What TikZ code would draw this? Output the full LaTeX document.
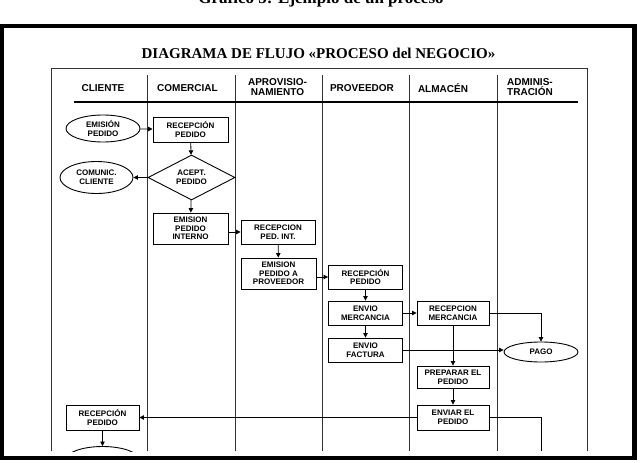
\documentclass[tikz,border=0pt]{standalone}
\usepackage{fontspec}
\setmainfont{Liberation Serif}
\setsansfont{Liberation Sans}
\usetikzlibrary{arrows.meta,shapes.geometric}

\begin{document}
\begin{tikzpicture}[x=1pt, y=-1pt,
    proc/.style={draw, line width=0.9pt, align=center, font=\sffamily\bfseries\fontsize{8}{8.6}\selectfont, inner sep=0pt, minimum width=74pt, minimum height=24pt},
    term/.style={draw, ellipse, line width=0.9pt, align=center, font=\sffamily\bfseries\fontsize{8}{8.6}\selectfont, inner sep=0pt, minimum width=74pt, minimum height=27pt},
    dec/.style={draw, diamond, line width=0.9pt, align=center, font=\sffamily\bfseries\fontsize{8}{8.6}\selectfont, inner sep=0pt, minimum width=87pt, minimum height=45pt},
    hdr/.style={align=center, font=\sffamily\bfseries\fontsize{10}{10.5}\selectfont, inner sep=0pt},
    lane/.style={line width=0.8pt, black!80},
    arr/.style={-{Triangle[length=4.5pt, width=4.5pt]}, line width=0.8pt}
    ]
    \useasboundingbox (0,0) rectangle (641,463);
    \node[font=\bfseries\fontsize{17}{17}\selectfont, anchor=base] (caption) at (321,4) {Gráfico 5: Ejemplo de un proceso};
    \draw[line width=4.5pt] (2,26) rectangle (634.5,458);
    \node[font=\bfseries\fontsize{15}{15}\selectfont, anchor=base] (title) at (318.5,59) {DIAGRAMA DE FLUJO «PROCESO del NEGOCIO»};

    \draw[lane] (51,451) -- (51,68) -- (587,68) -- (587,451);
    \draw[lane] (147,75) -- (147,451);
    \draw[lane] (235,75) -- (235,451);
    \draw[lane] (322,75) -- (322,451);
    \draw[lane] (409,75) -- (409,451);
    \draw[lane] (497,75) -- (497,451);
    \draw[line width=2pt] (74,102) -- (578,102);

    \node[hdr] (hcliente) at (103,88) {CLIENTE};
    \node[hdr] (hcomercial) at (187.5,88) {COMERCIAL};
    \node[hdr] (haprov) at (277.5,87) {APROVISIO-\\NAMIENTO};
    \node[hdr] (hproveedor) at (362,88) {PROVEEDOR};
    \node[hdr] (halmacen) at (443,88) {ALMACÉN};
    \node[hdr] (hadmin) at (530,87) {ADMINIS-\\TRACIÓN};

    \node[term] (emped) at (103,128.5) {EMISIÓN\\PEDIDO};
    \node[proc, minimum width=75pt, minimum height=25pt] (recped) at (190.5,129.5) {RECEPCIÓN\\PEDIDO};
    \node[dec] (acept) at (191.5,177.5) {ACEPT.\\PEDIDO};
    \node[term, minimum width=73pt, minimum height=32pt] (comunic) at (96.5,177.5) {COMUNIC.\\CLIENTE};
    \node[proc, minimum width=75pt, minimum height=31pt] (empedint) at (190.5,228.5) {EMISION\\PEDIDO\\INTERNO};
    \node[proc] (recpedint) at (278,232) {RECEPCION\\PED. INT.};
    \node[proc, minimum width=75pt, minimum height=31pt] (emprov) at (278.5,273.5) {EMISION\\PEDIDO A\\PROVEEDOR};
    \node[proc] (recpedprov) at (365.5,277) {RECEPCIÓN\\PEDIDO};
    \node[proc] (envmerc) at (365.5,313) {ENVIO\\MERCANCIA};
    \node[proc] (envfact) at (365.5,350) {ENVIO\\FACTURA};
    \node[proc, minimum width=72pt] (recmerc) at (453,313) {RECEPCION\\MERCANCIA};
    \node[term, minimum height=20pt] (pago) at (541,352) {PAGO};
    \node[proc, minimum width=72pt, minimum height=22pt] (prepped) at (453,377) {PREPARAR EL\\PEDIDO};
    \node[proc, minimum width=72pt, minimum height=25pt] (envped) at (453,417.5) {ENVIAR EL\\PEDIDO};
    \node[proc, minimum width=73pt, minimum height=25pt] (recpedcli) at (102.5,417.5) {RECEPCIÓN\\PEDIDO};
    \begin{scope}
      \clip (0,0) rectangle (641,451);
      \node[term, minimum width=74pt] (fin) at (102.5,460) {};
    \end{scope}
    \coordinate (envend) at (541,451);

    \draw[arr] (emped) -- (recped);
    \draw[arr] (recped) -- (acept);
    \draw[arr] (acept) -- (comunic);
    \draw[arr] (acept) -- (empedint);
    \draw[arr] (empedint.east |- recpedint.west) -- (recpedint.west);
    \draw[arr] (recpedint) -- (emprov);
    \draw[arr] (emprov.east |- recpedprov.west) -- (recpedprov.west);
    \draw[arr] (recpedprov) -- (envmerc);
    \draw[arr] (envmerc) -- (envfact);
    \draw[arr] (envmerc) -- (recmerc);
    \draw[arr] (recmerc.east) -| (pago.north);
    \draw[arr] (envfact.east) -- (envfact.east -| pago.west);
    \draw[arr] (recmerc) -- (prepped);
    \draw[arr] (prepped) -- (envped);
    \draw[arr] (envped) -- (recpedcli);
    \draw (envped.east) -| (envend);
    \draw[arr] (recpedcli) -- (fin.north);
  \end{tikzpicture}
\end{document}
